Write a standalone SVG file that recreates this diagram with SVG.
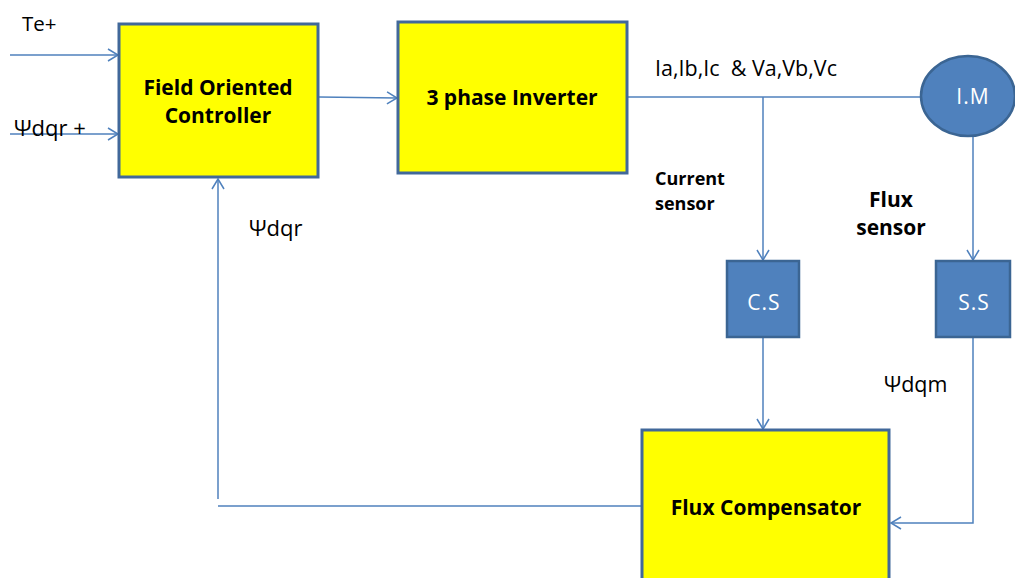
<svg xmlns="http://www.w3.org/2000/svg" width="1015" height="578" viewBox="0 0 1015 578">
<style>
.box{fill:#ffff00;stroke:#41689a;stroke-width:3}
.blue{fill:#4f81bd;stroke:#3b6593;stroke-width:2.5}
.ln{fill:none;stroke:#4f81bd;stroke-width:1.5}
.t{font-family:"Open Sans","Liberation Sans",sans-serif;fill:#000}
.b{font-weight:bold;font-size:21px;text-anchor:middle}
.w{fill:#fff;font-size:21px;text-anchor:middle;letter-spacing:1px}
</style>
<defs>
<marker id="a" markerWidth="14" markerHeight="14" refX="12" refY="7" orient="auto" markerUnits="userSpaceOnUse">
<path d="M2,1 L12,7 L2,13" fill="none" stroke="#4f81bd" stroke-width="1.5"/>
</marker>
</defs>
<g id="connectors">
<line class="ln" x1="10" y1="55" x2="118" y2="55" marker-end="url(#a)"/>
<line class="ln" x1="10" y1="134" x2="118" y2="134" marker-end="url(#a)"/>
<line class="ln" x1="319" y1="97" x2="397" y2="98" marker-end="url(#a)"/>
<line class="ln" x1="628" y1="97" x2="921" y2="97"/>
<line class="ln" x1="763" y1="97" x2="763" y2="260" marker-end="url(#a)"/>
<line class="ln" x1="973" y1="136" x2="973" y2="260" marker-end="url(#a)"/>
<line class="ln" x1="763" y1="338" x2="763" y2="429" marker-end="url(#a)"/>
<polyline class="ln" points="973,338 973,523 891,523" marker-end="url(#a)"/>
<line class="ln" x1="641" y1="506" x2="218" y2="506"/>
<line class="ln" x1="218" y1="499" x2="218" y2="179" marker-end="url(#a)"/>
</g>
<g id="labels">
<text class="t" x="22" y="31" font-size="20.5">Te+</text>
<text class="t" x="14" y="136" font-size="22">Ψdqr +</text>
<text class="t" x="249" y="236" font-size="22">Ψdqr</text>
<text class="t" x="655" y="76" font-size="21.5" xml:space="preserve">Ia,Ib,Ic  &amp; Va,Vb,Vc</text>
<text class="t" x="655" y="185" font-size="18" font-weight="bold">Current</text>
<text class="t" x="655" y="210" font-size="18" font-weight="bold">sensor</text>
<text class="t" x="891" y="207" font-size="21" font-weight="bold" text-anchor="middle">Flux</text>
<text class="t" x="891" y="235" font-size="21" font-weight="bold" text-anchor="middle">sensor</text>
<text class="t" x="884" y="392" font-size="21.5">Ψdqm</text>
</g>
<g id="foc">
<rect class="box" x="119" y="24" width="199" height="153"/>
<text class="t b" x="218" y="95">Field Oriented</text>
<text class="t b" x="218" y="123">Controller</text>
</g>
<g id="inverter">
<rect class="box" x="398" y="22" width="229" height="151"/>
<text class="t b" x="512" y="105">3 phase Inverter</text>
</g>
<g id="im">
<ellipse class="blue" cx="968" cy="96" rx="47" ry="40"/>
<text class="t w" x="973" y="104">I.M</text>
</g>
<g id="cs">
<rect class="blue" x="727" y="261" width="72" height="76"/>
<text class="t w" x="764" y="310">C.S</text>
</g>
<g id="ss">
<rect class="blue" x="936" y="261" width="74" height="76"/>
<text class="t w" x="974" y="310">S.S</text>
</g>
<g id="flux">
<rect class="box" x="642" y="430" width="247" height="160"/>
<text class="t b" x="766" y="515">Flux Compensator</text>
</g>
</svg>
